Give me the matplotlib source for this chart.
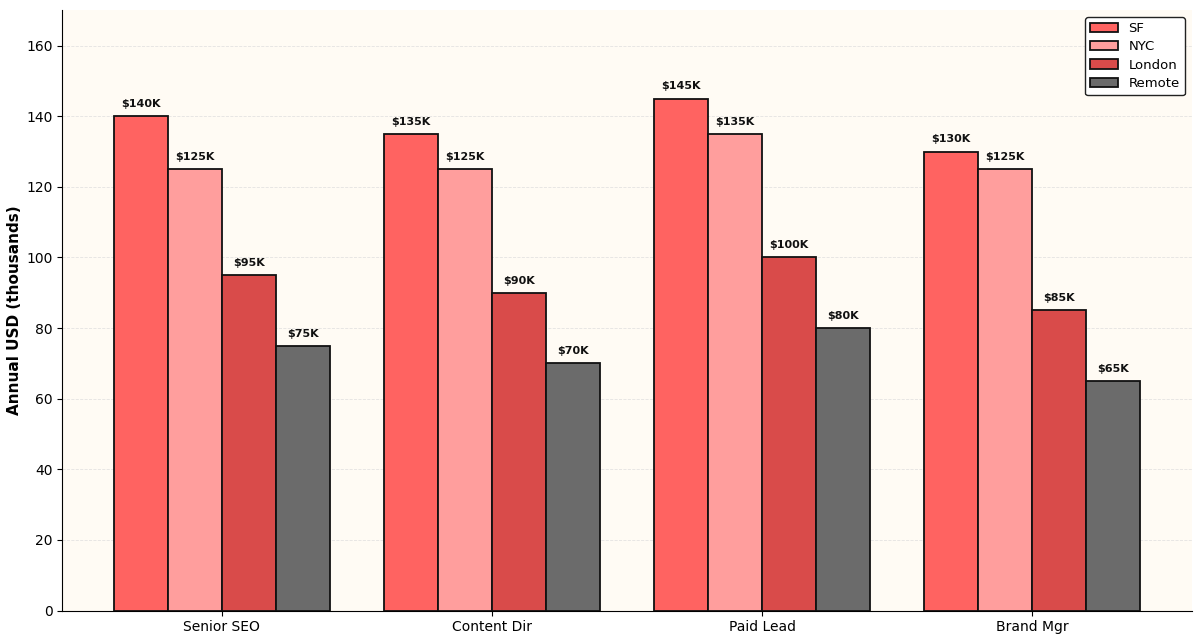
import matplotlib
matplotlib.use("Agg")
import matplotlib.pyplot as plt
import numpy as np

categories = ["Senior SEO", "Content Dir", "Paid Lead", "Brand Mgr"]
series_names = ["SF", "NYC", "London", "Remote"]
sf = [140, 135, 145, 130]
nyc = [125, 125, 135, 125]
london = [95, 90, 100, 85]
remote = [75, 70, 80, 65]
colors = ["#FF6361", "#FF9E9D", "#D94B4A", "#6B6B6B"]

fig, ax = plt.subplots(figsize=(12, 6.42), dpi=100)
fig.subplots_adjust(left=0.052, right=0.993, top=0.984, bottom=0.049)
ax.set_facecolor("#FFFBF4")

x = np.arange(len(categories))
w = 0.2
for i, (name, vals) in enumerate(zip(series_names, [sf, nyc, london, remote])):
    pos = x + (i - 1.5) * w
    bars = ax.bar(pos, vals, w, label=name, color=colors[i], edgecolor="#111111", linewidth=1.3, zorder=3)
    for b, v in zip(bars, vals):
        ax.text(b.get_x() + b.get_width() / 2, v + 2.0, f"${v}K", ha="center", va="bottom",
                fontsize=8, fontweight="bold", color="#111111", zorder=4)

ax.set_xticks(x)
ax.set_xticklabels(categories, fontsize=10)
ax.set_ylim(0, 170)
ax.set_ylabel("Annual USD (thousands)", fontsize=11, fontweight="bold", labelpad=3)
ax.grid(axis="y", linestyle="--", color="#DDDDDD", linewidth=0.6, alpha=0.8, zorder=0)
ax.spines["top"].set_visible(False)
ax.spines["right"].set_visible(False)
ax.legend(loc="upper right", fontsize=9.5, edgecolor="#222222", framealpha=1, fancybox=True,
          handlelength=2.1, labelspacing=0.4)

fig.savefig("out.png", dpi=100)
